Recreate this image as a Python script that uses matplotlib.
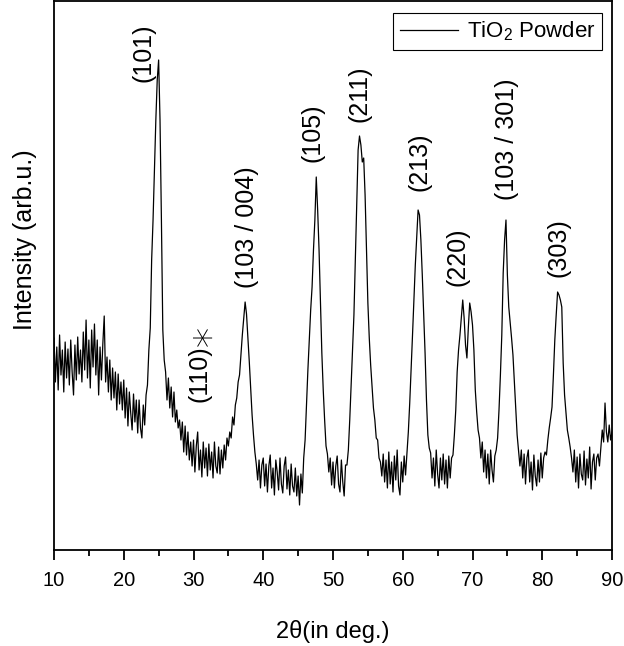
import matplotlib
matplotlib.use('Agg')
import matplotlib.pyplot as plt
import numpy as np

# XRD pattern of TiO2 powder, intensity (arb. units)
two_theta_start = 10.0
two_theta_step = 0.2
intensity = [
    212, 168, 203, 160, 215, 175, 200, 158, 208, 172,   # 10
    201, 165, 210, 178, 155, 205, 170, 213, 176, 200,   # 12
    168, 218, 180, 230, 172, 210, 162, 220, 183, 226,   # 14
    175, 210, 155, 203, 170, 206, 234, 168, 193, 158,   # 16
    190, 150, 182, 152, 178, 140, 176, 146, 168, 140,   # 18
    170, 132, 162, 124, 158, 137, 120, 156, 128, 150,   # 20
    117, 150, 122, 112, 145, 125, 155, 165, 200, 222,   # 22
    290, 330, 380, 430, 470, 490, 430, 330, 220, 190,   # 24
    178, 150, 172, 142, 163, 133, 158, 128, 140, 122,   # 26
    130, 110, 128, 98, 124, 95, 118, 90, 108, 84,       # 28
    110, 78, 104, 118, 80, 100, 73, 108, 82, 102,       # 30
    74, 106, 80, 98, 72, 108, 84, 77, 103, 76,          # 32
    100, 82, 105, 90, 112, 104, 118, 112, 133, 125,     # 34
    145, 152, 168, 175, 195, 215, 232, 248, 236, 212,   # 36
    188, 162, 135, 115, 98, 86, 70, 90, 62, 85,         # 38
    92, 64, 86, 58, 84, 95, 62, 82, 55, 90,             # 40
    78, 60, 92, 66, 57, 84, 93, 61, 80, 55,             # 42
    86, 64, 58, 82, 54, 74, 45, 76, 57, 92,             # 44
    110, 145, 180, 210, 240, 263, 300, 330, 373, 340,   # 46
    300, 250, 197, 160, 130, 104, 96, 78, 92, 65,       # 48
    88, 62, 84, 94, 66, 58, 90, 68, 54, 85,             # 50
    85, 100, 130, 165, 200, 235, 290, 347, 400, 414,    # 52
    405, 388, 392, 355, 300, 247, 212, 185, 163, 142,   # 54
    130, 112, 110, 92, 88, 74, 96, 68, 90, 62,          # 56
    98, 66, 88, 58, 94, 70, 100, 64, 55, 88,            # 58
    68, 94, 75, 97, 118, 147, 180, 215, 250, 285,       # 60
    313, 340, 335, 310, 275, 235, 197, 150, 115, 102,   # 62
    97, 72, 92, 64, 100, 76, 62, 92, 70, 96,            # 64
    66, 90, 62, 94, 72, 92, 95, 115, 140, 178,          # 66
    200, 215, 232, 250, 232, 205, 192, 222, 247, 238,   # 68
    225, 200, 160, 138, 120, 112, 92, 108, 78, 100,     # 70
    72, 96, 66, 100, 80, 68, 94, 100, 112, 140,         # 72
    175, 215, 277, 310, 330, 275, 243, 228, 212, 195,   # 74
    168, 140, 115, 100, 84, 100, 72, 96, 66, 92,        # 76
    100, 68, 88, 60, 95, 74, 64, 90, 68, 97,            # 78
    72, 92, 98, 95, 110, 122, 132, 143, 175, 210,       # 80
    235, 258, 255, 250, 243, 187, 155, 138, 120, 112,   # 82
    103, 92, 78, 100, 68, 93, 62, 96, 76, 70,           # 84
    99, 65, 91, 72, 103, 61, 88, 96, 70, 92,            # 86
    96, 84, 102, 120, 108, 147, 118, 108, 125, 110,     # 88
    118,                                                # 90
]
two_theta = two_theta_start + two_theta_step * np.arange(len(intensity))

# peak labels and where they sit
peak_labels = ['(101)', '(110)', '(103 / 004)', '(105)', '(211)',
               '(213)', '(220)', '(103 / 301)', '(303)']
label_x = [22.76, 30.93, 37.67, 46.99, 53.87, 62.47, 67.78, 74.95, 82.26]
label_y = [497, 176, 323, 417, 456, 388, 293, 411, 302]
# the impurity star next to (110)
star_x, star_y = 30.93, 217

xticks = [10, 20, 30, 40, 50, 60, 70, 80, 90]

plt.rcParams['font.family'] = ['Liberation Sans', 'DejaVu Sans']
plt.rcParams['mathtext.default'] = 'regular'

fig = plt.figure(figsize=(6.24, 6.46), dpi=100)
ax = fig.add_axes([54/624, 96/646, 558/624, 549/646])

ax.plot(two_theta, intensity, color='black', lw=0.9, label='TiO$_2$ Powder')

for lab, lx, ly in zip(peak_labels, label_x, label_y):
    ax.text(lx, ly, lab, rotation=90, ha='center', va='center', fontsize=18)
ax.text(star_x, star_y, '\u2217', rotation=90, ha='center', va='center',
        fontsize=30, family='DejaVu Sans', fontweight='light')

ax.set_xlim(10, 90)
ax.set_ylim(0, 549)
ax.set_xticks(xticks)
ax.set_xticks([15, 25, 35, 45, 55, 65, 75, 85], minor=True)
ax.set_yticks([])
ax.tick_params(axis='x', which='major', direction='out', length=7, width=1.3,
               labelsize=14.5, pad=8)
ax.tick_params(axis='x', which='minor', direction='out', length=4.5, width=1.3)
for s in ax.spines.values():
    s.set_linewidth(1.3)

ax.set_xlabel('2\u03b8(in deg.)', fontsize=17, labelpad=22)
ax.set_ylabel('Intensity (arb.u.)', fontsize=18)
ax.yaxis.set_label_coords(-0.03, 0.565)

leg = ax.legend(loc='upper right', bbox_to_anchor=(0.982, 0.978), fontsize=16,
                fancybox=False, edgecolor='black', framealpha=1,
                handlelength=2.6, handletextpad=0.4, borderpad=0.3,
                borderaxespad=0)
leg.get_frame().set_linewidth(0.8)

fig.savefig('out.png', dpi=100)
